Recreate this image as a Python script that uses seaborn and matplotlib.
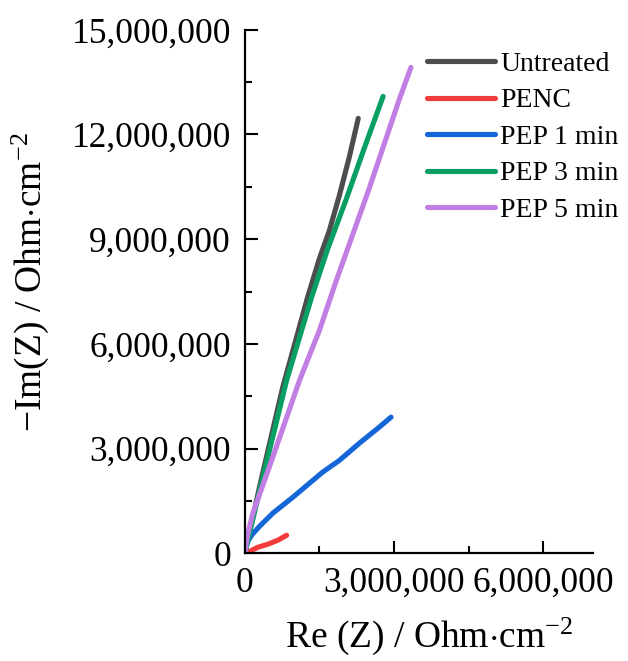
import numpy as np
import pandas as pd
import seaborn as sns
import matplotlib.pyplot as plt
from matplotlib.ticker import FuncFormatter, MultipleLocator

# Nyquist data (Ohm*cm^-2)
untreated_re = [0, 0.05e6, 0.35e6, 0.76e6, 1.26e6, 1.50e6, 1.70e6, 1.90e6, 2.10e6, 2.28e6]
untreated_im = [0, 0.35e6, 2.25e6, 4.75e6, 7.33e6, 8.45e6, 9.25e6, 10.25e6, 11.35e6, 12.46e6]

penc_re = [0, 0.10e6, 0.26e6, 0.46e6, 0.66e6, 0.84e6]
penc_im = [0, 0.057e6, 0.172e6, 0.258e6, 0.372e6, 0.516e6]

pep1_re = [0, 0.02e6, 0.06e6, 0.14e6, 0.30e6, 0.56e6, 0.96e6, 1.56e6, 1.90e6, 2.30e6, 2.70e6, 2.94e6]
pep1_im = [0, 0.16e6, 0.34e6, 0.53e6, 0.78e6, 1.146e6, 1.60e6, 2.32e6, 2.66e6, 3.15e6, 3.61e6, 3.90e6]

pep3_re = [0, 0.05e6, 0.40e6, 0.84e6, 1.34e6, 1.66e6, 2.04e6, 2.40e6, 2.78e6]
pep3_im = [0, 0.33e6, 2.40e6, 4.96e6, 7.33e6, 8.70e6, 10.15e6, 11.6e6, 13.09e6]

pep5_re = [0, 0.05e6, 0.16e6, 0.56e6, 1.10e6, 1.50e6, 1.84e6, 2.50e6, 3.10e6, 3.34e6]
pep5_im = [0, 0.50e6, 1.15e6, 2.75e6, 4.96e6, 6.39e6, 7.82e6, 10.45e6, 12.98e6, 13.92e6]

labels = ['Untreated', 'PENC', 'PEP 1 min', 'PEP 3 min', 'PEP 5 min']
colors = ['#4d4d4d', '#f23b3b', '#1566d9', '#08a062', '#c27ee2']

frames = []
for name, re, im in zip(labels,
                        [untreated_re, penc_re, pep1_re, pep3_re, pep5_re],
                        [untreated_im, penc_im, pep1_im, pep3_im, pep5_im]):
    frames.append(pd.DataFrame({'Re': re, 'Im': im, 'Sample': name}))
df = pd.concat(frames, ignore_index=True)

sns.set_style('ticks')
plt.rcParams['font.family'] = ['Liberation Serif', 'DejaVu Serif']
plt.rcParams['mathtext.fontset'] = 'custom'
plt.rcParams['mathtext.rm'] = 'Liberation Serif'
plt.rcParams['mathtext.it'] = 'Liberation Serif:italic'
for k in ['text.color', 'axes.labelcolor', 'xtick.color', 'ytick.color', 'axes.edgecolor']:
    plt.rcParams[k] = 'black'

fig = plt.figure(figsize=(6.28, 6.61), dpi=100)
ax = fig.add_axes([0.390, 0.163, 0.554, 0.792])

sns.lineplot(data=df, x='Re', y='Im', hue='Sample', hue_order=labels,
             palette=colors, sort=False, estimator=None, units='Sample',
             linewidth=3.7, ax=ax, legend=True)

ax.set_xlim(0, 7.0e6)
ax.set_ylim(0, 15.0e6)
ax.xaxis.set_major_locator(MultipleLocator(3e6))
ax.xaxis.set_minor_locator(MultipleLocator(1.5e6))
ax.yaxis.set_major_locator(MultipleLocator(3e6))
ax.yaxis.set_minor_locator(MultipleLocator(1.5e6))
fmt = FuncFormatter(lambda v, p: f'{int(round(v)):,}')
ax.xaxis.set_major_formatter(fmt)
ax.yaxis.set_major_formatter(fmt)

ax.tick_params(which='major', direction='in', length=9, width=1.5, labelsize=25.5, pad=10)
ax.tick_params(which='minor', direction='in', length=5, width=1.5)
sns.despine(ax=ax)
for s in ['left', 'bottom']:
    ax.spines[s].set_linewidth(1.6)

ax.set_xlabel(r'Re (Z) / Ohm$\cdot$cm$^{-2}$', fontsize=27)
ax.set_ylabel(r'$-$Im(Z) / Ohm$\cdot$cm$^{-2}$', fontsize=27)
ax.xaxis.set_label_coords(0.53, -0.12)
ax.yaxis.set_label_coords(-0.556, 0.517)

leg = ax.legend(loc='upper left', bbox_to_anchor=(0.491, 0.98), frameon=False,
                fontsize=20, handlelength=2.45, handletextpad=0.2,
                labelspacing=0.4, borderaxespad=0)
for line in leg.get_lines():
    line.set_linewidth(3.7)

fig.savefig('out.png', dpi=100)
